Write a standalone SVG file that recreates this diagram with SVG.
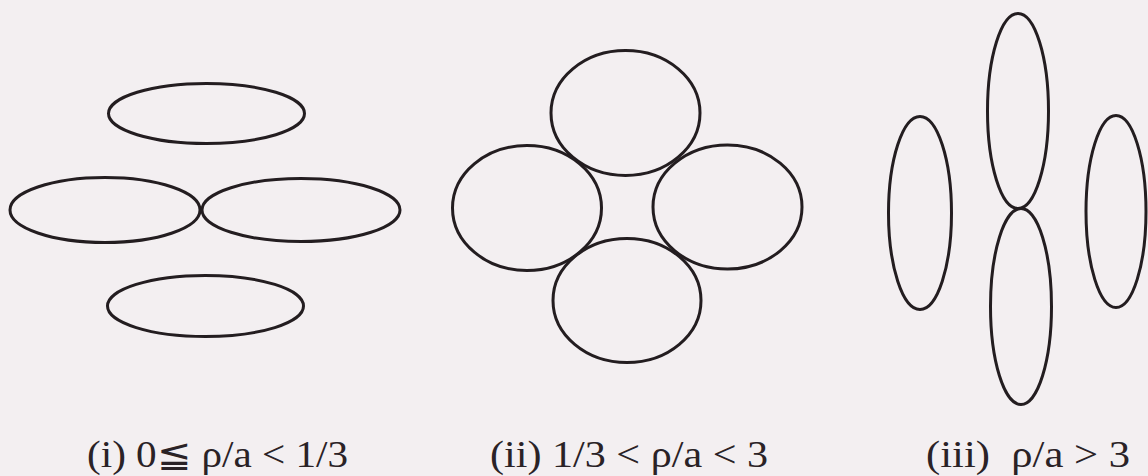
<svg xmlns="http://www.w3.org/2000/svg" width="1148" height="476" viewBox="0 0 1148 476">
<style>
.e{fill:none;stroke:#231d20;stroke-width:3}
.t{font-family:"Liberation Serif","DejaVu Serif",serif;font-size:37px;fill:#2a2226}
</style>
<rect width="1148" height="476" fill="#f3eff1"/>
<g id="panel-i">
<ellipse id="i-top" class="e" cx="206.5" cy="113.5" rx="98" ry="30"/>
<ellipse id="i-left" class="e" cx="105" cy="210" rx="95" ry="32.5"/>
<ellipse id="i-right" class="e" cx="301" cy="210" rx="99" ry="31.5"/>
<ellipse id="i-bottom" class="e" cx="205.5" cy="306" rx="98" ry="30.5"/>
</g>
<g id="panel-ii">
<ellipse id="ii-top" class="e" cx="625.5" cy="113" rx="74.5" ry="62.5"/>
<ellipse id="ii-left" class="e" cx="527" cy="208" rx="74.5" ry="62.5"/>
<ellipse id="ii-right" class="e" cx="727.5" cy="207" rx="74.5" ry="62"/>
<ellipse id="ii-bottom" class="e" cx="627" cy="300.5" rx="74" ry="62"/>
</g>
<g id="panel-iii">
<ellipse id="iii-left" class="e" cx="920" cy="213" rx="31.5" ry="96.5"/>
<ellipse id="iii-top" class="e" cx="1018" cy="111" rx="30.5" ry="97.5"/>
<ellipse id="iii-bottom" class="e" cx="1021" cy="306.5" rx="30.5" ry="98"/>
<ellipse id="iii-right" class="e" cx="1116" cy="211.5" rx="30" ry="96"/>
</g>
<g id="connectors"></g>
<g id="labels">
<text class="t" x="87" y="467" textLength="261" lengthAdjust="spacingAndGlyphs">(i) 0≦ ρ/a &lt; 1/3</text>
<text class="t" x="490" y="467" textLength="278" lengthAdjust="spacingAndGlyphs">(ii) 1/3 &lt; ρ/a &lt; 3</text>
<text class="t" x="926" y="467" textLength="204" lengthAdjust="spacingAndGlyphs" xml:space="preserve">(iii)  ρ/a &gt; 3</text>
</g>
</svg>
